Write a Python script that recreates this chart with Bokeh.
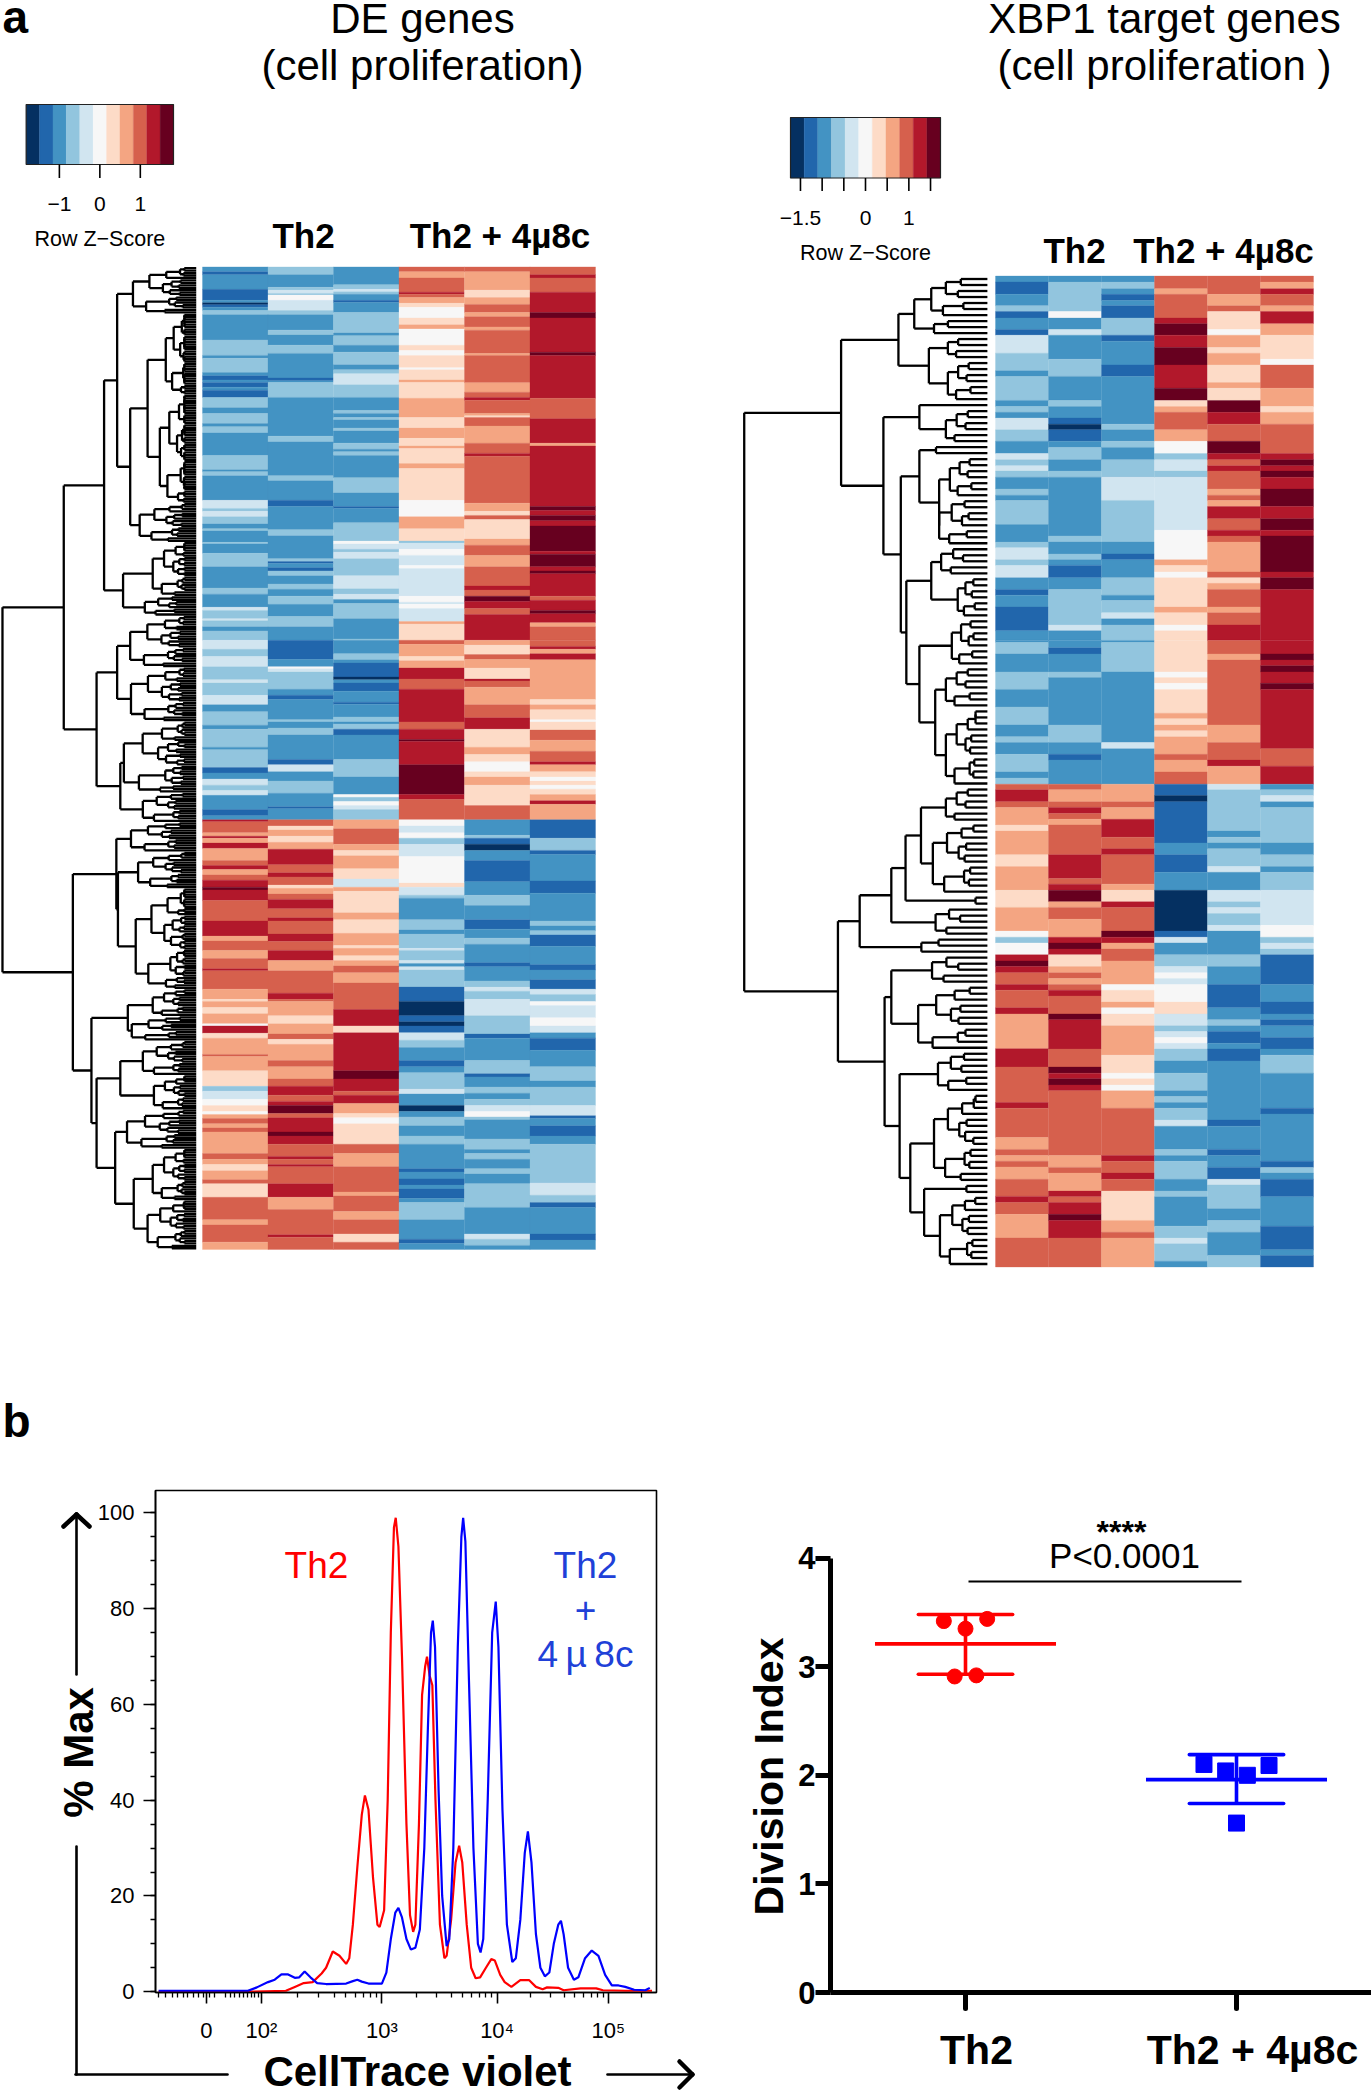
import math
from bokeh.embed import file_html
from bokeh.resources import INLINE
from bokeh.plotting import figure
from bokeh.layouts import column, row
from bokeh.models import Range1d, Label, FixedTicker

# ---------- data: colour bins (0..10) with band ends along the gene rows ----------
PALETTE = ["#053061","#2166ac","#4393c3","#92c5de","#d1e5f0","#f7f7f7","#fddbc7","#f4a582","#d6604d","#b2182b","#67001f"]

A1T=[(2,665),(1,672),(2,708),(1,735),(2,741),(0,746),(1,752),(2,760),(3,770),(2,832),(3,870),(2,877),(3,912),(2,920),(1,930),(2,936),(1,948),(2,955),(1,973),(3,998),(2,1012),(3,1037),(2,1045),(3,1060),(2,1115),(3,1150),(2,1155),(3,1165),(2,1225),(4,1245),(3,1252),(4,1265),(3,1283),(2,1295),(3,1300),(2,1328),(3,1332),(2,1355),(3,1388),(2,1440),(3,1455),(2,1487),(4,1495),(3,1515),(4,1520),(3,1535),(2,1545),(3,1568)]
A2T=[(3,672),(2,703),(3,710),(4,718),(3,722),(5,735),(4,760),(3,770),(2,808),(3,820),(2,845),(3,865),(2,925),(1,932),(2,936),(3,973),(2,1068),(3,1082),(2,1165),(3,1177),(2,1225),(1,1240),(2,1297),(3,1312),(2,1368),(3,1375),(1,1380),(2,1390),(1,1398),(3,1410),(2,1430),(3,1443),(2,1460),(3,1480),(2,1510),(3,1535),(2,1568)]
A3T=[(2,697),(3,708),(4,714),(3,720),(2,735),(1,740),(2,765),(3,815),(2,822),(3,845),(2,862),(3,893),(2,905),(3,915),(4,942),(3,973),(2,1005),(3,1012),(2,1022),(3,1028),(2,1048),(3,1055),(2,1085),(3,1100),(2,1106),(3,1115),(2,1170),(3,1207),(2,1240),(1,1245),(2,1280),(3,1325),(5,1332),(4,1345),(3,1352),(4,1368),(3,1410),(4,1442),(3,1455),(4,1468),(2,1478),(3,1515),(2,1565),(3,1568)]
A4T=[(8,665),(7,680),(8,715),(9,720),(8,728),(7,742),(6,752),(5,778),(6,795),(7,805),(5,845),(6,858),(5,870),(6,900),(5,905),(6,930),(7,936),(6,975),(7,1022),(6,1048),(7,1073),(6,1092),(7,1098),(6,1135),(7,1147),(6,1225),(5,1265),(7,1295),(6,1325),(3,1330),(4,1345),(5,1360),(4,1385),(5,1392),(4,1460),(5,1475),(4,1480),(5,1490),(4,1522),(7,1528),(6,1568)]
A5T=[(8,665),(7,710),(6,728),(7,745),(8,765),(7,775),(8,800),(7,808),(8,865),(7,870),(8,937),(7,960),(8,973),(9,980),(8,1012),(7,1018),(6,1022),(8,1043),(7,1085),(8,1110),(9,1117),(8,1232),(7,1252),(6,1262),(8,1272),(6,1320),(7,1335),(8,1360),(7,1388),(8,1435),(9,1445),(8,1460),(10,1473),(9,1490),(8,1505),(9,1568)]
A6T=[(8,672),(9,680),(8,715),(9,765),(10,778),(9,862),(10,870),(9,975),(8,1025),(9,1085),(7,1092),(9,1240),(10,1250),(9,1262),(10,1275),(9,1288),(10,1350),(9,1357),(10,1388),(9,1398),(10,1405),(9,1460),(8,1470),(9,1495),(10,1503),(9,1525),(7,1535),(8,1568)]
A1B=[(4,22),(3,40),(4,65),(3,97),(4,105),(3,135),(4,158),(2,175),(3,208),(2,218),(3,262),(2,268),(3,312),(1,325),(2,340),(4,355),(3,368),(4,380),(2,415),(1,430),(2,440),(9,445),(8,472),(7,480),(9,485),(7,497),(9,510),(7,540),(8,552),(9,562),(7,575),(8,588),(9,605),(10,612),(9,638),(8,688),(9,725),(7,737),(8,760),(7,780),(8,805),(9,810),(8,855),(7,880),(6,885),(7,900),(6,915),(7,940),(5,945),(9,963),(6,975),(7,1015),(8,1020),(7,1055),(6,1093),(3,1105),(4,1125),(5,1140),(6,1155),(5,1162),(7,1172),(8,1185),(7,1195),(8,1205),(7,1258),(8,1272),(7,1285),(6,1300),(7,1322),(8,1332),(6,1365),(8,1420),(7,1433),(8,1475),(7,1493)]
A2B=[(1,47),(2,65),(5,70),(4,78),(3,120),(2,135),(1,145),(2,195),(3,200),(2,215),(3,232),(2,292),(1,305),(4,322),(2,345),(3,375),(2,408),(1,413),(2,440),(8,455),(6,465),(7,480),(6,495),(7,512),(9,550),(8,570),(9,580),(8,600),(6,608),(7,622),(8,635),(9,658),(8,680),(9,688),(8,720),(9,738),(8,760),(9,785),(7,810),(8,865),(9,880),(8,885),(7,920),(6,940),(7,965),(8,978),(6,990),(7,1030),(8,1045),(7,1075),(8,1093),(9,1115),(8,1130),(9,1140),(10,1160),(8,1170),(9,1205),(10,1215),(9,1235),(8,1265),(9,1272),(8,1285),(9,1290),(8,1332),(9,1365),(7,1395),(8,1457),(9,1463),(8,1493)]
A3B=[(2,33),(3,48),(2,56),(1,90),(0,97),(2,105),(1,125),(2,152),(1,157),(2,188),(3,200),(2,205),(3,218),(1,232),(2,292),(3,335),(2,378),(5,385),(3,395),(5,405),(4,415),(3,440),(7,462),(8,500),(7,515),(6,528),(7,560),(6,585),(4,605),(7,615),(6,668),(7,685),(6,718),(7,748),(6,755),(7,773),(6,785),(7,798),(8,815),(7,840),(8,905),(9,945),(6,962),(9,1055),(10,1075),(9,1105),(8,1115),(9,1135),(7,1160),(6,1170),(5,1185),(6,1235),(8,1258),(7,1290),(8,1352),(7,1362),(8,1400),(7,1420),(8,1455),(6,1475),(8,1493)]
A4B=[(8,10),(7,40),(6,50),(7,68),(9,95),(8,120),(9,200),(8,218),(9,243),(10,248),(9,305),(10,378),(9,390),(8,440),(5,455),(4,472),(5,485),(3,500),(4,530),(5,595),(6,605),(4,625),(3,632),(2,685),(3,710),(2,720),(3,755),(4,760),(3,785),(4,792),(2,800),(4,808),(3,850),(1,885),(0,920),(1,935),(0,945),(1,962),(4,980),(3,998),(2,1030),(1,1045),(2,1060),(3,1100),(4,1112),(2,1140),(0,1155),(2,1168),(3,1190),(2,1215),(3,1235),(2,1295),(1,1303),(2,1320),(1,1335),(2,1345),(1,1368),(2,1378),(3,1420),(2,1468),(1,1478),(2,1493)]
A5B=[(7,12),(6,35),(8,47),(7,68),(6,95),(9,100),(8,115),(7,158),(8,190),(9,218),(6,262),(7,280),(6,298),(5,322),(6,335),(7,355),(6,405),(8,440),(2,478),(3,485),(1,500),(0,515),(2,540),(1,592),(2,625),(3,650),(2,685),(1,708),(2,730),(3,745),(2,790),(1,800),(2,835),(3,850),(4,860),(3,880),(4,920),(3,965),(1,975),(2,1030),(3,1062),(1,1070),(2,1095),(3,1110),(2,1125),(3,1140),(4,1155),(5,1168),(3,1175),(2,1222),(3,1248),(2,1258),(3,1272),(2,1295),(3,1308),(2,1332),(3,1390),(2,1455),(4,1468),(3,1483),(2,1493)]
A6B=[(8,15),(9,22),(7,33),(9,48),(7,145),(6,158),(7,170),(6,195),(5,200),(6,220),(8,245),(7,272),(8,298),(9,305),(7,322),(6,335),(5,345),(6,355),(5,365),(6,378),(7,393),(9,402),(7,440),(1,485),(3,515),(1,525),(2,590),(1,620),(2,688),(3,700),(2,712),(3,722),(1,750),(2,795),(1,808),(2,832),(1,855),(4,868),(3,885),(5,895),(4,925),(5,945),(4,962),(2,975),(1,1005),(2,1045),(3,1080),(2,1095),(3,1140),(4,1165),(1,1172),(2,1190),(1,1215),(2,1235),(3,1330),(4,1360),(3,1378),(1,1390),(2,1455),(1,1470),(2,1493)]

B1T=[(2,690),(1,720),(2,748),(3,762),(1,778),(2,806),(1,820),(4,864),(3,907),(2,921),(3,980),(2,995),(3,1009),(2,1023),(4,1052),(3,1080),(2,1110),(4,1125),(3,1140),(4,1153),(3,1168),(2,1197),(3,1212),(2,1225),(3,1284),(2,1327),(3,1341),(4,1370),(3,1384),(4,1414),(2,1443),(1,1457),(2,1486),(1,1544),(2,1568)]
B2T=[(2,690),(3,762),(5,778),(2,806),(4,820),(2,879),(3,921),(2,980),(3,995),(2,1023),(1,1038),(0,1052),(1,1080),(2,1095),(3,1125),(2,1153),(3,1168),(2,1312),(3,1327),(2,1356),(3,1370),(2,1384),(1,1414),(2,1443),(3,1530),(4,1544),(2,1568)]
B3T=[(2,690),(3,706),(2,720),(1,735),(2,748),(1,778),(3,820),(1,835),(2,893),(1,921),(2,1038),(3,1052),(2,1080),(3,1095),(2,1125),(3,1168),(4,1225),(3,1327),(2,1356),(1,1370),(2,1414),(3,1457),(2,1470),(3,1500),(4,1515),(2,1530),(3,1568)]
B4T=[(8,706),(7,720),(8,778),(9,792),(10,820),(9,850),(10,893),(9,950),(10,980),(6,995),(7,1009),(8,1052),(7,1080),(5,1110),(3,1125),(4,1153),(3,1168),(4,1298),(5,1370),(7,1384),(6,1400),(5,1414),(6,1486),(7,1500),(6,1530),(5,1544),(6,1568)]
B5T=[(8,720),(7,748),(8,762),(6,806),(5,820),(7,850),(6,864),(7,893),(6,936),(7,950),(6,980),(10,1009),(9,1038),(8,1080),(10,1110),(9,1125),(8,1140),(9,1153),(8,1197),(7,1212),(8,1225),(7,1240),(9,1270),(8,1298),(9,1312),(8,1327),(7,1400),(8,1414),(6,1428),(7,1443),(8,1486),(7,1500),(8,1530),(9,1568)]
B6T=[(8,690),(7,706),(9,720),(8,748),(7,762),(9,792),(7,820),(6,879),(5,893),(8,950),(7,995),(6,1009),(7,1038),(8,1110),(9,1125),(10,1140),(9,1153),(10,1168),(9,1197),(10,1240),(9,1270),(10,1298),(9,1312),(10,1400),(9,1414),(10,1443),(9,1568)]
B1B=[(2,5),(3,33),(2,77),(3,120),(2,163),(3,207),(2,236),(3,250),(2,279),(3,322),(2,337),(3,352),(8,366),(9,395),(8,409),(7,452),(6,467),(7,525),(6,554),(7,612),(6,654),(7,712),(5,727),(3,741),(5,770),(9,785),(10,799),(9,814),(8,843),(9,857),(8,900),(9,915),(7,1000),(9,1045),(8,1132),(9,1146),(8,1218),(7,1247),(8,1262),(7,1276),(8,1290),(7,1320),(8,1362),(9,1377),(8,1406),(7,1464),(8,1535)]
B2B=[(2,18),(1,33),(2,77),(3,91),(2,207),(3,250),(2,279),(1,293),(2,352),(8,366),(7,395),(8,409),(9,424),(8,438),(7,452),(8,525),(9,583),(8,597),(9,612),(10,640),(7,654),(8,683),(7,727),(9,741),(10,756),(9,770),(6,799),(7,814),(8,828),(7,843),(8,857),(9,871),(8,915),(10,929),(9,1001),(8,1045),(10,1060),(9,1074),(10,1089),(9,1103),(8,1262),(7,1291),(8,1305),(7,1349),(9,1363),(8,1377),(9,1406),(10,1421),(9,1464),(8,1535)]
B3B=[(2,5),(3,77),(2,250),(4,265),(2,352),(7,395),(8,409),(7,438),(9,482),(8,510),(9,525),(8,597),(7,612),(6,640),(9,654),(8,712),(10,727),(9,741),(7,756),(8,785),(7,843),(5,857),(6,886),(7,900),(5,915),(6,944),(7,1016),(6,1060),(5,1074),(6,1089),(5,1103),(7,1146),(8,1262),(9,1276),(8,1305),(9,1320),(8,1349),(6,1421),(7,1450),(8,1464),(7,1535)]
B4B=[(6,77),(5,91),(6,105),(5,120),(6,178),(7,192),(6,207),(7,221),(6,236),(7,279),(8,293),(7,322),(8,352),(1,380),(0,395),(1,496),(2,525),(1,568),(2,612),(0,712),(1,727),(4,741),(2,770),(3,799),(4,814),(5,828),(4,843),(5,886),(6,915),(4,944),(3,958),(4,973),(5,987),(4,1001),(3,1030),(2,1060),(3,1103),(2,1117),(3,1132),(2,1146),(3,1175),(4,1190),(2,1247),(3,1262),(2,1276),(3,1320),(2,1349),(3,1363),(2,1435),(3,1464),(4,1478),(3,1521),(2,1535)]
B5B=[(8,33),(7,48),(8,207),(7,250),(8,293),(9,308),(7,352),(4,366),(3,467),(2,482),(3,496),(2,510),(3,554),(4,568),(2,612),(4,640),(3,654),(4,669),(3,698),(4,712),(2,770),(3,799),(2,843),(1,900),(2,929),(3,944),(2,958),(1,987),(2,1001),(1,1030),(2,1175),(1,1190),(2,1247),(1,1262),(2,1291),(1,1320),(4,1334),(3,1392),(2,1421),(3,1450),(2,1507),(3,1535)]
B6B=[(9,33),(10,48),(9,62),(10,77),(9,105),(10,120),(9,265),(8,308),(9,352),(2,366),(3,380),(4,395),(2,409),(3,496),(2,525),(3,554),(2,568),(3,612),(4,698),(5,727),(3,741),(4,756),(3,770),(1,843),(2,886),(1,915),(2,929),(1,944),(2,973),(1,1001),(2,1016),(3,1060),(2,1146),(1,1160),(2,1276),(1,1291),(3,1305),(2,1320),(1,1363),(2,1435),(1,1493),(2,1507),(1,1535)]

# dendrogram merge trees: (merge height, child, child); a bare (height, n) is a cluster of n genes
TREE_LEFT=(5,
 (160,
  (262,
   (295,(335,19),
        (328,(372,(418,33),(403,44)),(352,16))),
   (310,(385,22),(365,8))),
  (243,
   (295,(328,21),(330,22)),
   (303,(312,29),(360,12)))),
 (183,
  (293,(330,12),(297,(348,15),(342,41))),
  (230,
   (322,(385,11),(332,10)),
   (243,(303,(360,14),(388,14)),
        (290,(320,16),(337,(385,21),(372,20)))))))

TREE_RIGHT=(60,
 (305,
  (450,
   (490,(533,7),(540,3)),
   (527,(575,4),(575,7))),
  (412,
   (503,(612,1),(570,6)),
   (456,
    (503,(545,2),(553,(580,7),(553,8))),
    (470,(533,(558,5),(600,7)),
         (503,(585,8),(543,(570,7),(570,13))))))),
 (297,
  (352,
   (432,
    (468,(507,(570,6),(537,12)),(650,2)),
    (544,5)),
   (508,3)),
  (415,
   (432,(535,5),(500,11)),
   (453,(550,7),
        (480,(540,15),(515,(622,2),(555,12)))))))

# flow cytometry histograms: channel, % of max
TH2_X=[355,560,640,660,680,700,720,730,745,760,775,782,790,800,810,817,825,835,845,850,860,868,875,882,886,892,900,910,918,925,930,938,945,952,956,962,968,975,985,995,1000,1010,1020,1028,1035,1045,1055,1065,1075,1088,1100,1108,1120,1130,1145,1165,1185,1200,1215,1225,1250,1262,1300,1335,1350,1400,1460]
TH2_Y=[0,0,0.2,1,1.8,2,3.8,5,8.4,7.5,5.8,7,14,26,37,41,38,24,14,13.5,17,40,75,97,99,93,70,35,16,12.5,14,35,62,68,70,66,64,40,14,7,7.5,15,27,30.5,27,14,5,2.8,3,5,6.8,6.5,3.5,2,1,2.4,2.4,1,0.5,0.9,0.8,0.3,0.7,0.7,0.3,0.2,0.2]
MU_X=[355,555,575,600,615,630,645,660,670,682,695,710,730,775,790,800,810,825,855,865,875,885,892,900,910,920,930,940,950,958,965,969,974,982,990,1000,1006,1015,1025,1033,1037,1042,1050,1060,1070,1076,1082,1092,1102,1110,1116,1125,1135,1147,1155,1165,1175,1182,1190,1200,1210,1220,1230,1240,1250,1256,1262,1272,1285,1295,1310,1325,1340,1355,1370,1385,1400,1420,1445,1455]
MU_Y=[0.2,0.2,0.9,2,2.5,3.6,3.6,2.9,3,4.2,3,1.8,1.6,1.7,2.2,2.5,2.1,1.7,1.7,4,11,16.5,17.5,15.5,11,8.8,9.2,13,30,55,75,77.5,72,42,20,9.5,11,30,72,95,99,94,65,30,10,8.2,11,40,75,81.5,72,38,14,6.2,7,15,29,33.5,27,12,5,3.2,4,10,14,14.8,12,5,2.5,3,7,8.6,7.5,3.5,1.3,1.3,1,0.4,0.3,0.8]
FLOW_MAJOR=[462,585,855,1113,1362]
FLOW_LABELS={462:"0",585:"10²",855:"10³",1113:"10⁴",1362:"10⁵"}
FLOW_MINOR=[355,370,385,398,410,420,432,445,455,470,480,505,515,525,535,545,555,562,570,578,666,714,748,774,795,813,829,843,933,978,1010,1035,1056,1073,1088,1101,1188,1232,1263,1287,1307,1324,1338,1351,1437]

# division index
GROUPS=["Th2","Th2 + 4µ8c"]
TH2_OFFS=[-0.08,0.08,0.0,-0.04,0.04]
TH2_DI=[3.42,3.44,3.35,2.91,2.92]
MU_OFFS=[-0.12,0.12,-0.04,0.04,0.0]
MU_DI=[2.10,2.09,2.04,2.00,1.56]
MEANS=[3.21,1.96]
SD_HI=[3.48,2.19]
SD_LO=[2.93,1.74]

FONT="Liberation Sans"

def txt(p,x,y,s,size,bold=False,color="black",angle=0,align="center",base="alphabetic",font=FONT,**kw):
    off=0.36*size if base=="alphabetic" else 0
    l=Label(x=x,y=y,text=s,text_font=font,text_font_size=f"{size}px",text_font_style="bold" if bold else "normal",
            text_color=color,angle=angle,text_align=align,text_baseline=base,y_offset=off,**kw)
    p.add_layout(l)

def panel(x0,x1,y0,y1):
    p=figure(frame_width=x1-x0,frame_height=y1-y0,x_range=Range1d(x0,x1),y_range=Range1d(y1,y0),
             x_axis_location=None,y_axis_location=None,toolbar_location=None,output_backend="svg",
             min_border=0,outline_line_color=None)
    p.grid.visible=False
    return p

def heatmap(p,x0,x1,y_top,y_bot,y_fig0,y_fig1,cols_T,cols_B,start,unit):
    split=cols_T[0][-1][1]-start
    ncol=len(cols_T)
    total=(split+cols_B[0][-1][1])/unit
    u=(y_bot-y_top)/total
    p.extra_y_ranges["rows"]=Range1d((y_fig1-y_top)/u,(y_fig0-y_top)/u)
    w=(x1-x0)/ncol
    fx0,fx1=p.x_range.start,p.x_range.end
    p.extra_x_ranges["cols"]=Range1d((fx0-x0)/w,(fx1-x0)/w)
    L,R,T,B,C=[],[],[],[],[]
    for c,(ct,cb) in enumerate(zip(cols_T,cols_B)):
        prev=0.0
        for b,e in ct:
            L.append(c);R.append(c+1);T.append(prev);B.append((e-start)/unit);C.append(PALETTE[b]);prev=(e-start)/unit
        for b,e in cb:
            if (split+e)/unit<=prev: continue
            L.append(c);R.append(c+1);T.append(prev);B.append((split+e)/unit);C.append(PALETTE[b]);prev=(split+e)/unit
    p.quad(left=L,right=R,top=T,bottom=B,fill_color=C,line_color=C,line_width=0.3,
           x_range_name="cols",y_range_name="rows")

LADDER_SPLIT=[0.62,0.45,0.7,0.5,0.58,0.38,0.66]
LEAF_STUB=30
def expand(x,n,leaf,d=0):
    if n==1: return None
    a=max(1,min(n-1,round(n*LADDER_SPLIT[d%7])))
    step=(leaf-x)*(0.26+0.1*(d%3))
    nx=min(x,leaf-LEAF_STUB)
    return (nx,expand(x+step,a,leaf,d+1) if a>1 else a,expand(x+step*0.8,n-a,leaf,d+2) if n-a>1 else n-a)

def dendro(p,tree,leaf,dist_range):
    p.extra_x_ranges["dist"]=Range1d(*dist_range)
    xs0,ys0,xs1,ys1=[],[],[],[]
    pos=[0]
    def walk(nd):
        if nd is None or isinstance(nd,int):
            y=pos[0]+0.5;pos[0]+=1
            return leaf,y
        if len(nd)==2:
            nd=expand(nd[0],nd[1],leaf)
            if nd is None:
                y=pos[0]+0.5;pos[0]+=1
                return leaf,y
        x,a,b=nd
        xa,ya=walk(a); xb,yb=walk(b)
        xs0.extend([x,x,x]); xs1.extend([x,xa,xb]); ys0.extend([ya,ya,yb]); ys1.extend([yb,ya,yb])
        return x,(ya+yb)/2
    walk(tree)
    p.segment(xs0,ys0,xs1,ys1,line_color="black",line_width=2.3,x_range_name="dist",y_range_name="rows")

def colorbar(p,x0,x1,y0,y1,zmin,zmax,ticks,labels,tick_end,lab_y,name_y):
    k=(x1-x0)/(zmax-zmin)
    p.extra_x_ranges["z"]=Range1d(zmin+(p.x_range.start-x0)/k,zmin+(p.x_range.end-x0)/k)
    edges=[zmin+(zmax-zmin)*i/11 for i in range(12)]
    p.quad(left=edges[:-1],right=edges[1:],top=y0,bottom=y1,fill_color=PALETTE,line_color=PALETTE,line_width=0.3,x_range_name="z")
    p.quad(left=[zmin],right=[zmax],top=y0,bottom=y1,fill_color=None,line_color="#222222",line_width=1.2,x_range_name="z")
    p.segment(ticks,[y1]*len(ticks),ticks,[tick_end]*len(ticks),line_color="black",line_width=1.6,x_range_name="z")
    for v,s in labels:
        txt(p,v,lab_y,s,21,base="middle",x_range_name="z")
    txt(p,0,name_y,"Row Z−Score",21.5,base="middle",x_range_name="z")

# ---------- panel a, left ----------
a=panel(0,700,0,1380)
txt(a,2,33,"a",46,True,align="left")
txt(a,422,33,"DE genes",42)
txt(a,422,80,"(cell proliferation)",42)
colorbar(a,25.7,173,104,164,-1.82,1.82,[-1,0,1],[(-1,"−1"),(0,"0"),(1,"1")],177.5,203,238)
txt(a,303,234.6,"Th2",35,True,base="middle")
txt(a,499.5,234.6,"Th2 + 4µ8c",35,True,base="middle")
heatmap(a,202,595,266.4,1249,0,1380,[A1T,A2T,A3T,A4T,A5T,A6T],[A1B,A2B,A3B,A4B,A5B,A6B],653,6.02)
dendro(a,TREE_LEFT,495,(0,700/0.3954))

# ---------- panel a, right ----------
b=panel(700,1371,0,1380)
txt(b,1164,33,"XBP1 target genes",42)
txt(b,1164,80,"(cell proliferation )",42)
colorbar(b,790,940,117,177.5,-1.73,1.73,[-1.5,-1,-0.5,0,0.5,1,1.5],[(-1.5,"−1.5"),(0,"0"),(1,"1")],190.5,217,252)
txt(b,1074,250,"Th2",35,True,base="middle")
txt(b,1223,250,"Th2 + 4µ8c",35,True,base="middle")
heatmap(b,995,1313,275.5,1266.5,0,1380,[B1T,B2T,B3T,B4T,B5T,B6T],[B1B,B2B,B3B,B4B,B5B,B6B],675,14.715)
dendro(b,TREE_RIGHT,675,((700-720)/0.3954,(1371-720)/0.3954))

# ---------- panel b, histogram ----------
FX0,FX1,FY0,FY1=155,656,1490,1992
CH0,CH1=348,1470
P0,P1=-0.17,104.7
c=figure(frame_width=FX1-FX0,frame_height=FY1-FY0,x_range=Range1d(CH0,CH1),y_range=Range1d(P0,P1),
         toolbar_location=None,output_backend="svg",min_border_left=FX0,min_border_right=700-FX1,
         min_border_top=FY0-1380,min_border_bottom=2091-FY1,outline_line_color="black",outline_line_width=1.6)
c.grid.visible=False
c.line(TH2_X,TH2_Y,line_color="#ff0000",line_width=2.2)
c.line(MU_X,MU_Y,line_color="#0000ff",line_width=2.2)
for ax in (c.xaxis[0],c.yaxis[0]):
    ax.axis_line_color="black";ax.axis_line_width=1.6
    ax.major_tick_line_color="black";ax.minor_tick_line_color="black"
    ax.major_tick_line_width=1.6;ax.minor_tick_line_width=1.3
    ax.major_tick_in=0;ax.minor_tick_in=0
    ax.major_label_text_font=FONT;ax.major_label_text_font_size="22px";ax.major_label_text_color="black"
c.yaxis[0].ticker=FixedTicker(ticks=[0,20,40,60,80,100],minor_ticks=list(range(0,105,5)))
c.yaxis[0].major_tick_out=12;c.yaxis[0].minor_tick_out=5;c.yaxis[0].major_label_standoff=9
c.xaxis[0].ticker=FixedTicker(ticks=FLOW_MAJOR,minor_ticks=FLOW_MINOR)
c.xaxis[0].major_label_overrides=FLOW_LABELS
c.xaxis[0].major_tick_out=11;c.xaxis[0].minor_tick_out=5;c.xaxis[0].major_label_standoff=14
txt(c,CH0+(316-FX0)*(CH1-CH0)/(FX1-FX0),P1-(1564.5-FY0)*(P1-P0)/(FY1-FY0),"Th2",37,color="#ff0000",base="middle")
txt(c,CH0+(585-FX0)*(CH1-CH0)/(FX1-FX0),P1-(1564.5-FY0)*(P1-P0)/(FY1-FY0),"Th2",37,color="#2040d8",base="middle")
txt(c,CH0+(585-FX0)*(CH1-CH0)/(FX1-FX0),P1-(1609-FY0)*(P1-P0)/(FY1-FY0),"+",37,color="#2040d8",base="middle")
txt(c,CH0+(585-FX0)*(CH1-CH0)/(FX1-FX0),P1-(1654-FY0)*(P1-P0)/(FY1-FY0),"4\u2009µ\u20098c",37,color="#2040d8",base="middle")

# ---------- panel b, division index ----------
DX0,DX1,DYB=830,1371,FY1
PXU=271.0
PYU=108.6
d=figure(frame_width=DX1-DX0,frame_height=DYB-FY0,x_range=Range1d(1-(965-DX0)/PXU,1+(DX1-965)/PXU),
         y_range=Range1d(0,(DYB-FY0)/PYU),toolbar_location=None,output_backend="svg",
         min_border_left=DX0-700,min_border_right=0,min_border_top=FY0-1380,min_border_bottom=2091-DYB,outline_line_color=None)
d.grid.visible=False
xa,ya=d.xaxis[0],d.yaxis[0]
for ax in (xa,ya):
    ax.axis_line_color="black";ax.axis_line_width=5
    ax.major_tick_line_color="black";ax.major_tick_line_width=5
    ax.major_tick_in=0;ax.minor_tick_line_color=None
ya.bounds=(0,4)
ya.ticker=FixedTicker(ticks=[0,1,2,3,4]);ya.major_tick_out=15;ya.major_label_standoff=0
ya.major_label_text_font=FONT;ya.major_label_text_font_style="bold";ya.major_label_text_font_size="31px"
ya.major_label_text_color="black"
dx=lambda px:1+(px-965)/PXU
dy=lambda py:(DYB-py)/PYU
LAB_POS=[dx(976),dx(1252)]
xa.ticker=FixedTicker(ticks=LAB_POS)
xa.major_label_overrides={LAB_POS[0]:GROUPS[0],LAB_POS[1]:GROUPS[1]}
xa.major_tick_line_color=None;xa.major_tick_out=0;xa.major_label_standoff=34
xa.major_label_text_font=FONT;xa.major_label_text_font_style="bold";xa.major_label_text_font_size="41px"
xa.major_label_text_color="black"
RED,BLUE="#ff0000","#0000ff"
for i,col in enumerate((RED,BLUE)):
    x=i+1
    d.segment([x-0.334],[MEANS[i]],[x+0.334],[MEANS[i]],line_color=col,line_width=3.6)
    d.segment([x-0.174,x-0.174],[SD_HI[i],SD_LO[i]],[x+0.174,x+0.174],[SD_HI[i],SD_LO[i]],line_color=col,line_width=3.6,line_cap="round")
    d.segment([x],[SD_LO[i]],[x],[SD_HI[i]],line_color=col,line_width=3.6)
d.scatter([1+o for o in TH2_OFFS],TH2_DI,marker="circle",size=15,fill_color=RED,line_color=RED)
d.scatter([2+o for o in MU_OFFS],MU_DI,marker="square",size=16,fill_color=BLUE,line_color=BLUE)
d.segment([dx(968)],[dy(1581)],[dx(1241)],[dy(1581)],line_color="black",line_width=2.2)
txt(d,dx(1124),dy(1568),"P<0.0001",35)
txt(d,dx(1121),dy(1543),"****",32,True)

# ---------- transparent layer over panel b for what lies outside the frames ----------
o=panel(0,1371,1380,2091)
o.background_fill_alpha=0;o.border_fill_alpha=0
o.margin=(-711,0,0,0)
txt(o,2,1437,"b",46,True,align="left")
txt(o,417,2086,"CellTrace violet",42,True)
txt(o,78,1752,"% Max",42,True,angle=math.pi/2,base="middle")
txt(o,768,1776,"Division Index",41,True,angle=math.pi/2,base="middle")
SX0=[76,76,75,607,63,89,679,679,965,1236]
SY0=[1674,1846,2074,2074,1526,1526,2061,2087,1992,1992]
SX1=[76,76,227,692,76,76,692,692,965,1236]
SY1=[1514,2074,2074,2074,1514,1514,2074,2074,2008,2008]
SW=[2.6]*4+[4.5]*4+[5,5]
o.segment(SX0,SY0,SX1,SY1,line_color="black",line_width=SW,line_cap="round")

layout=column(row(a,b,spacing=0),row(c,d,spacing=0),row(o),spacing=0)
open("out.html","w").write(file_html(layout,INLINE))
